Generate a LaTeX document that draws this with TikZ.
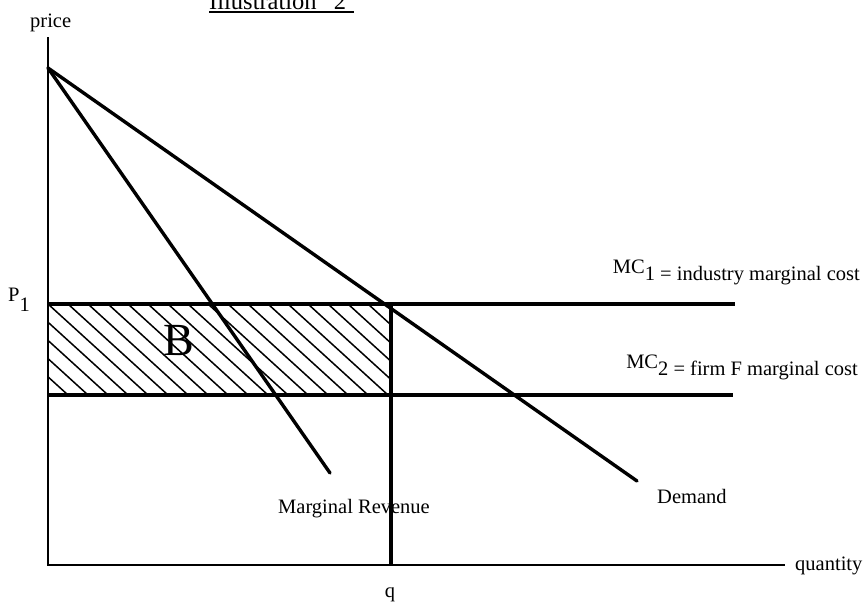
\documentclass[tikz,border=0pt]{standalone}
\usepackage{fontspec}
\setmainfont{Liberation Serif}
\begin{document}
\begin{tikzpicture}[x=1pt,y=-1pt,
  thick line/.style={line width=3.4pt},
  axis line/.style={line width=2.9pt},
  hatchline/.style={line width=1.5pt},
  lbl/.style={inner sep=0pt,font=\fontsize{20.5}{24}\selectfont},
  bigB/.style={inner sep=0pt,font=\fontsize{46}{50}\selectfont},
  ttl/.style={inner sep=0pt,font=\fontsize{24.5}{28}\selectfont}]
\useasboundingbox (0,0) rectangle (865,603);
% key points
\coordinate (ytop) at (48,37);
\coordinate (O) at (48,565);
\coordinate (xend) at (785,565);
\coordinate (apex) at (48,68);
\coordinate (mrend) at (330,473);
\coordinate (dend) at (637,481);
\coordinate (p1l) at (48,304);
\coordinate (p1r) at (735,304);
\coordinate (mc2l) at (48,395);
\coordinate (mc2r) at (733,395);
\coordinate (qtop) at (391,304);
\coordinate (qbot) at (391,565);
\coordinate (ul1) at (209,12);
\coordinate (ul2) at (354,12);
% hatching of area B
\begin{scope}
\clip (p1l) rectangle (391,395);
\foreach \k in {-6,...,18}
  \draw[hatchline] ({48+\k*20},304) -- ++(100,91);
\end{scope}
% lines
\draw[axis line] (ytop) -- (O) -- (xend);
\draw[thick line] (p1l) -- (p1r);
\draw[thick line] (mc2l) -- (mc2r);
\draw[thick line] (qtop) -- (qbot);
\draw[thick line,line cap=round] (apex) -- (mrend);
\draw[thick line,line cap=round] (apex) -- (dend);
% title
\node[ttl,anchor=base west] (title) at (209,9) {Illustration\hspace{0.7em}2};
\draw[line width=1.5pt] (ul1) -- (ul2);
% labels
\node[lbl,anchor=base west] (price) at (30,27) {price};
\node[lbl,anchor=base west] (p1) at (8,311) {\raisebox{0.45em}{P}1};
\node[bigB,anchor=base west] (B) at (163,355) {B};
\node[lbl,anchor=base east] (mc1) at (860,280) {\raisebox{0.34em}{MC}1 = industry marginal cost};
\node[lbl,anchor=base east] (mc2) at (858,375) {\raisebox{0.34em}{MC}2 = firm F marginal cost};
\node[lbl,anchor=base west] (mr) at (278,513) {Marginal Revenue};
\node[lbl,anchor=base west] (dem) at (657,503) {Demand};
\node[lbl,anchor=base west] (qty) at (795,570) {quantity};
\node[lbl,anchor=base] (q) at (390,597) {q};
\end{tikzpicture}
\end{document}
